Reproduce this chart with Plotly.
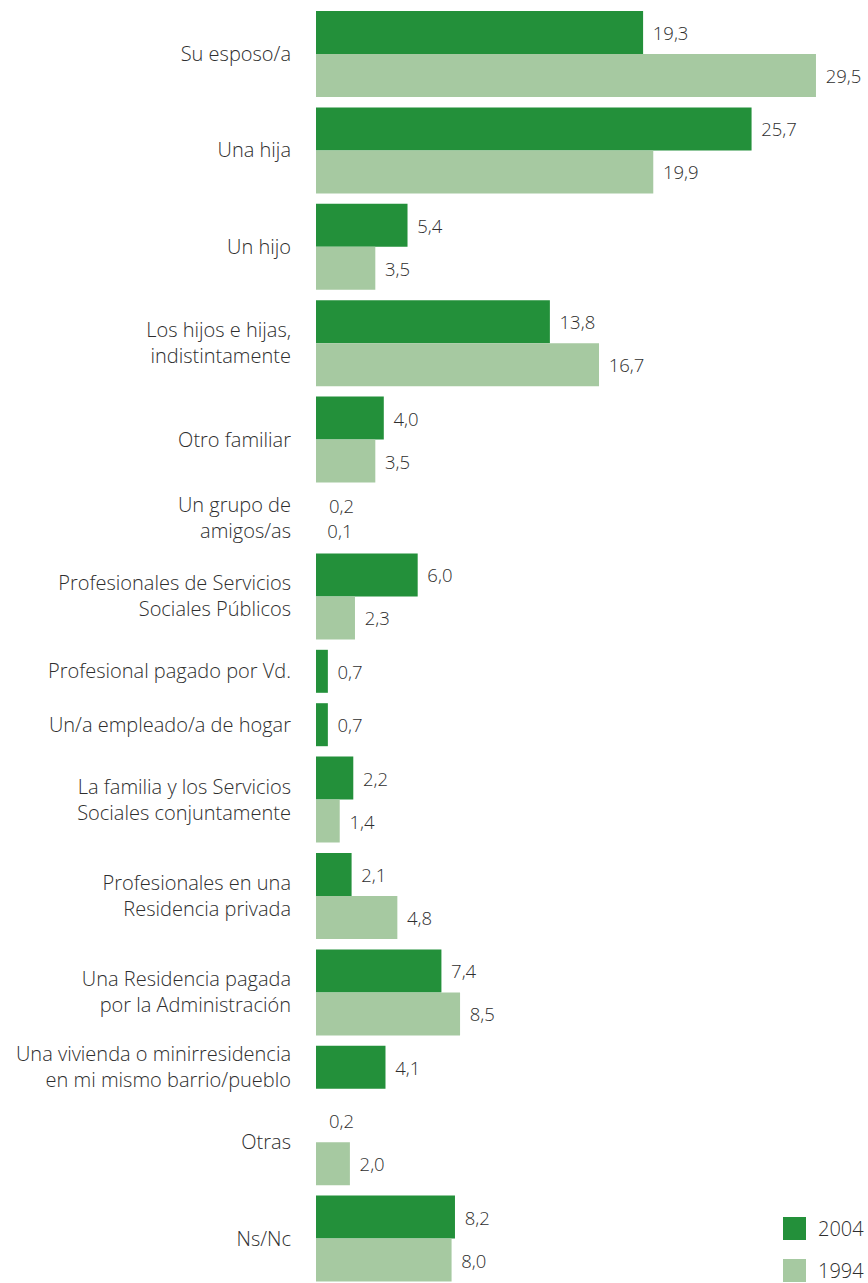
import plotly.graph_objects as go

# ---- data ----
categories = [
    "Su esposo/a",
    "Una hija",
    "Un hijo",
    "Los hijos e hijas,<br>indistintamente",
    "Otro familiar",
    "Un grupo de<br>amigos/as",
    "Profesionales de Servicios<br>Sociales Públicos",
    "Profesional pagado por Vd.",
    "Un/a empleado/a de hogar",
    "La familia y los Servicios<br>Sociales conjuntamente",
    "Profesionales en una<br>Residencia privada",
    "Una Residencia pagada<br>por la Administración",
    "Una vivienda o minirresidencia<br>en mi mismo barrio/pueblo",
    "Otras",
    "Ns/Nc",
]
v2004 = [19.3, 25.7, 5.4, 13.8, 4.0, 0.2, 6.0, 0.7, 0.7, 2.2, 2.1, 7.4, 4.1, 0.2, 8.2]
v1994 = [29.5, 19.9, 3.5, 16.7, 3.5, 0.1, 2.3, None, None, 1.4, 4.8, 8.5, None, 2.0, 8.0]
series_names = ["2004", "1994"]
series_values = [v2004, v1994]

# ---- style ----
colors = ["#23903a", "#a6c9a1"]
TEXT = "#2e2e2e"
FONT = "Open Sans"
W, H = 868, 1283
L = 316
BAR, SMALL, GAP, TOP = 43, 25, 10.4, 11
XMAX = 32.57
MIN_VISIBLE = 0.5

# ---- compute row layout (slot positions) from the data ----
pos = {0: [], 1: []}
tick_y = []
cursor = TOP
for i in range(len(categories)):
    present = [(s, series_values[s][i]) for s in range(2) if series_values[s][i] is not None]
    h = BAR if max(v for _, v in present) >= MIN_VISIBLE else SMALL
    start = cursor
    for s, v in present:
        pos[s].append((i, cursor + h / 2, h))
        cursor += h
    tick_y.append((start + cursor) / 2)
    cursor += GAP

fig = go.Figure()
for s in range(2):
    xs = [series_values[s][i] for i, _, _ in pos[s]]
    ys = [y for _, y, _ in pos[s]]
    ws = [h for _, _, h in pos[s]]
    mcol = [colors[s] if v >= MIN_VISIBLE else "rgba(0,0,0,0)" for v in xs]
    fig.add_trace(go.Bar(
        x=xs, y=ys, width=ws, orientation="h", name=series_names[s],
        marker=dict(color=mcol, line=dict(width=0)),
        texttemplate="\u00a0\u200a%{x:.1f}", textposition="outside",
        textfont=dict(family=FONT, size=18.5, color=TEXT, weight=300),
        constraintext="none", cliponaxis=False, showlegend=False,
        hoverinfo="skip",
    ))

fig.update_layout(
    width=W, height=H,
    margin=dict(l=L, r=0, t=0, b=0),
    barmode="overlay",
    separators=",.",
    plot_bgcolor="white", paper_bgcolor="white",
    font=dict(family=FONT, size=20, color=TEXT, weight=300),
    showlegend=False,
)
fig.update_xaxes(range=[0, XMAX], visible=False, fixedrange=True)
fig.update_yaxes(
    range=[H, 0], tickmode="array", tickvals=tick_y, ticktext=categories,
    showgrid=False, zeroline=False, showline=False, ticks="", fixedrange=True,
    ticklabelstandoff=24, tickfont=dict(family=FONT, size=20, color=TEXT, weight=300),
)

# ---- legend (manual, large squares) ----
pw = W - L
def px(xp):
    return (xp - L) / pw
def py(yp):
    return 1 - yp / H
for k, name in enumerate(series_names):
    top = 1217 + 42 * k
    fig.add_shape(type="rect", xref="paper", yref="paper",
                  x0=px(783), x1=px(806), y0=py(top + 23), y1=py(top),
                  fillcolor=colors[k], line=dict(width=0))
    fig.add_annotation(xref="paper", yref="paper", x=px(816), y=py(top + 11.5),
                       text=name, showarrow=False, xanchor="left", yanchor="middle",
                       font=dict(family=FONT, size=20, color=TEXT, weight=300))

fig.write_html(
    "out.html",
    config={"displayModeBar": False},
    post_script="document.body.style.margin='0';document.body.style.overflow='hidden';",
)
